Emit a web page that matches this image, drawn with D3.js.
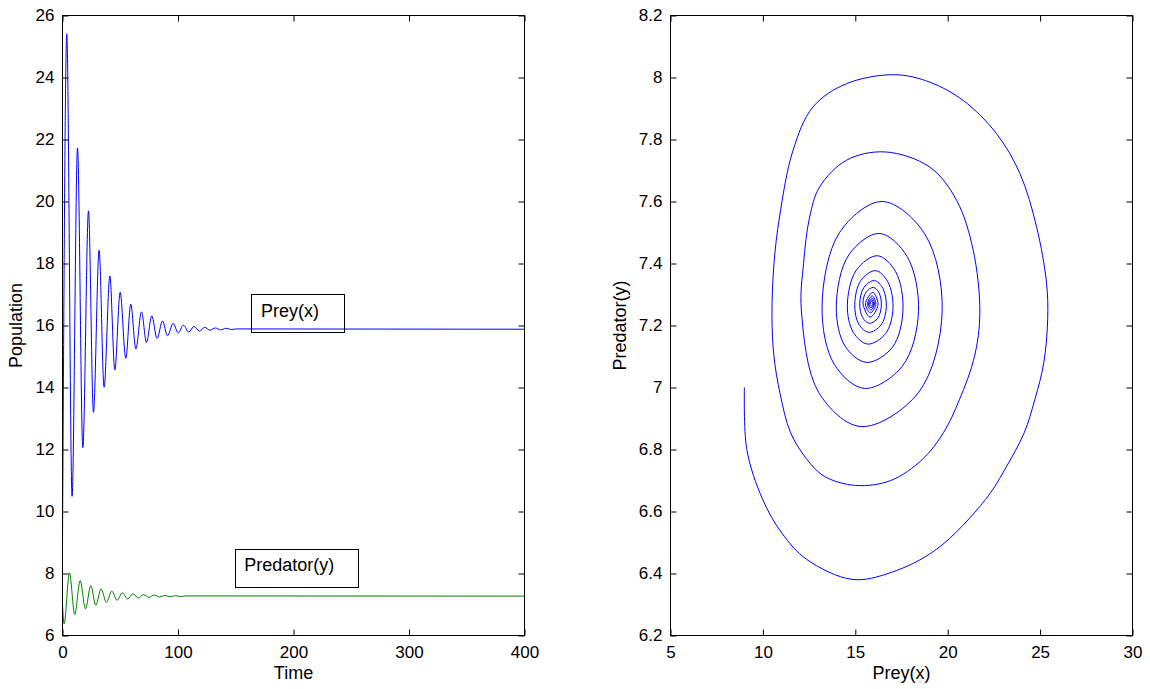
<!DOCTYPE html>
<html>
<head>
<meta charset="utf-8">
<script src="https://cdn.jsdelivr.net/npm/d3@7"></script>
<style>
  body { margin: 0; background: #fff; }
  svg { display: block; }
  text { font-family: "Liberation Sans", Arial, Helvetica, sans-serif; fill: #000; }
</style>
</head>
<body>
<svg id="chart" width="1150" height="689"></svg>
<script>
// time series at the turning points (time, value)
const preyTime = [0, 3.7, 8.3, 13, 17.6, 22.5, 26.8, 31.7, 36, 41, 45.3, 49.9, 54.8, 59.1, 63.5, 68.4, 72.7, 77.3, 81.9, 86.6, 90.9, 95.8, 100.2, 104.7, 109.3, 113.9, 118.5, 123.1, 127.7, 132.3, 136.9, 141.5, 146.1, 150.7, 400];
const preyValues = [9, 25.41, 10.49, 21.73, 12.06, 19.7, 13.2, 18.43, 14.01, 17.6, 14.57, 17.07, 14.94, 16.69, 15.24, 16.44, 15.45, 16.31, 15.58, 16.15, 15.67, 16.07, 15.76, 16.01, 15.79, 15.97, 15.82, 15.94, 15.85, 15.92, 15.86, 15.91, 15.87, 15.89, 15.88];

const predTime = [0, 1.4, 6, 10.6, 15.3, 19.9, 24.5, 28.8, 33.4, 38, 42.7, 47.2, 51.8, 56.4, 61, 65.6, 70.2, 74.8, 79.4, 84, 88.6, 93.2, 97.8, 102.4, 107, 400];
const predValues = [7.0, 6.38, 8.02, 6.68, 7.77, 6.86, 7.61, 6.98, 7.5, 7.07, 7.43, 7.135, 7.38, 7.18, 7.345, 7.21, 7.32, 7.23, 7.305, 7.243, 7.293, 7.25, 7.285, 7.258, 7.278, 7.27];

// phase portrait, points traced along the spiral (prey, predator)
const phasePrey = [9, 9.13, 9.98, 11.03, 12.36, 14.83, 16.92, 19.39, 22.05, 23.19, 24.14, 24.71, 25.2, 25.41, 25.35, 24.81, 23.91, 22.64, 20.84, 19.03, 17.13, 14.52, 12.71, 11.63, 10.9, 10.6, 10.49, 10.6, 10.93, 11.5, 12.36, 13.31, 15.02, 16.92, 18.63, 19.77, 20.63, 21.45, 21.74, 21.38, 20.48, 19.03, 16.6, 14.52, 13.07, 12.53, 12.2, 12.08,
  13.02, 15.3, 18.41, 19.7, 18.75, 16.45, 14.15, 13.2,
  13.87, 15.5, 17.56, 18.42, 17.8, 16.3, 14.65, 13.97,
  14.45, 15.62, 17.01, 17.58, 17.18, 16.2, 15.05, 14.57,
  14.9, 15.68, 16.64, 17.04, 16.76, 16.1, 15.3, 14.97,
  15.19, 15.73, 16.4, 16.68, 16.49, 16.03, 15.47, 15.24,
  15.4, 15.77, 16.22, 16.41, 16.28, 15.98, 15.58, 15.42,
  15.8, 16.23, 15.95, 15.55, 15.82, 16.11, 15.92, 15.65, 15.84, 16.04, 15.9, 15.71, 15.85, 15.99, 15.89, 15.76, 15.86, 15.95, 15.88, 15.8, 15.87];
const phasePred = [7.0, 6.8, 6.64, 6.53, 6.446, 6.381, 6.403, 6.478, 6.639, 6.746, 6.854, 6.96, 7.08, 7.22, 7.336, 7.518, 7.69, 7.819, 7.926, 7.985, 8.009, 7.98, 7.905, 7.765, 7.55, 7.4, 7.23, 7.1, 6.98, 6.854, 6.77, 6.714, 6.684, 6.7, 6.768, 6.854, 6.96, 7.1, 7.24, 7.443, 7.604, 7.711, 7.76, 7.733, 7.647, 7.55, 7.4, 7.25,
  6.984, 6.874, 6.983, 7.245, 7.496, 7.6, 7.5, 7.26,
  7.074, 6.997, 7.07, 7.245, 7.423, 7.497, 7.428, 7.26,
  7.133, 7.081, 7.13, 7.25, 7.374, 7.425, 7.378, 7.265,
  7.177, 7.14, 7.174, 7.255, 7.341, 7.377, 7.345, 7.268,
  7.204, 7.178, 7.202, 7.26, 7.32, 7.345, 7.323, 7.27,
  7.225, 7.207, 7.224, 7.265, 7.306, 7.323, 7.307, 7.27,
  7.227, 7.267, 7.307, 7.27, 7.241, 7.268, 7.296, 7.27, 7.25, 7.269, 7.289, 7.27, 7.257, 7.27, 7.283, 7.27, 7.262, 7.27, 7.278, 7.27, 7.27];

// ticks
const timeTicks = [0, 100, 200, 300, 400];
const popTicks = [6, 8, 10, 12, 14, 16, 18, 20, 22, 24, 26];
const preyTicks = [5, 10, 15, 20, 25, 30];
const predTicks = [6.2, 6.4, 6.6, 6.8, 7, 7.2, 7.4, 7.6, 7.8, 8, 8.2];

const svg = d3.select("#chart");
const tickFont = 17;
const labelFont = 18;

// left panel
const xTime = d3.scaleLinear().domain([0, 400]).range([62.5, 524.5]);
const yPop = d3.scaleLinear().domain([6, 26]).range([635.5, 15.5]);
// right panel
const xPrey = d3.scaleLinear().domain([5, 30]).range([670.5, 1132.5]);
const yPred = d3.scaleLinear().domain([6.2, 8.2]).range([635.5, 15.5]);

function drawFrame(x, y, xt, yt) {
  let g = svg.append("g");
  let [x0, x1] = x.range();
  let [y0, y1] = y.range();

  let styleAxis = sel => {
    sel.select(".domain").remove();
    sel.selectAll("line").attr("stroke", "#000");
    sel.selectAll("text").style("font-size", tickFont + "px")
      .style("font-family", "'Liberation Sans', Arial, sans-serif").attr("fill", "#000");
  };

  g.append("g").attr("transform", `translate(0,${y0})`)
    .call(d3.axisBottom(x).tickValues(xt).tickSizeInner(-6).tickSizeOuter(0).tickPadding(10).tickFormat(d => d))
    .call(styleAxis);
  g.append("g").attr("transform", `translate(0,${y1})`)
    .call(d3.axisTop(x).tickValues(xt).tickSizeInner(-6).tickSizeOuter(0).tickFormat(""))
    .call(styleAxis);
  g.append("g").attr("transform", `translate(${x0},0)`)
    .call(d3.axisLeft(y).tickValues(yt).tickSizeInner(-6).tickSizeOuter(0).tickPadding(8).tickFormat(d => d))
    .call(styleAxis);
  g.append("g").attr("transform", `translate(${x1},0)`)
    .call(d3.axisRight(y).tickValues(yt).tickSizeInner(-6).tickSizeOuter(0).tickFormat(""))
    .call(styleAxis);

  g.append("rect")
    .attr("x", x0).attr("y", y1)
    .attr("width", x1 - x0).attr("height", y0 - y1)
    .attr("fill", "none").attr("stroke", "#000").attr("stroke-width", 1);
}

// lines first, frame on top
const tsLine = d3.line().x(d => xTime(d[0])).y(d => yPop(d[1])).curve(d3.curveMonotoneX);
svg.append("path")
  .datum(d3.zip(preyTime, preyValues))
  .attr("d", tsLine)
  .attr("fill", "none").attr("stroke", "#0000ff").attr("stroke-width", 1);

svg.append("path")
  .datum(d3.zip(predTime, predValues))
  .attr("d", tsLine)
  .attr("fill", "none").attr("stroke", "#008000").attr("stroke-width", 1);

const phaseLine = d3.line().x(d => xPrey(d[0])).y(d => yPred(d[1])).curve(d3.curveCatmullRom.alpha(0.5));
svg.append("path")
  .datum(d3.zip(phasePrey, phasePred))
  .attr("d", phaseLine)
  .attr("fill", "none").attr("stroke", "#0000ff").attr("stroke-width", 1);

drawFrame(xTime, yPop, timeTicks, popTicks);
drawFrame(xPrey, yPred, preyTicks, predTicks);

// text boxes inside the time plot (data coordinates)
function textBox(label, t0, t1, vTop, vBot, tText, vText) {
  svg.append("rect")
    .attr("x", Math.round(xTime(t0)) + 0.5).attr("y", Math.round(yPop(vTop)) + 0.5)
    .attr("width", Math.round(xTime(t1) - xTime(t0))).attr("height", Math.round(yPop(vBot) - yPop(vTop)))
    .attr("fill", "none").attr("stroke", "#000").attr("stroke-width", 1);
  svg.append("text")
    .attr("x", xTime(tText)).attr("y", yPop(vText))
    .style("font-size", labelFont + "px")
    .text(label);
}
textBox("Prey(x)", 163.2, 244, 17.02, 15.79, 171.9, 16.28);
textBox("Predator(y)", 149.4, 256.1, 8.79, 7.57, 157.4, 8.09);

// axis titles
svg.append("text").attr("x", (xTime.range()[0] + xTime.range()[1]) / 2).attr("y", 679)
  .attr("text-anchor", "middle").style("font-size", labelFont + "px").text("Time");
svg.append("text").attr("transform", `translate(22,${(yPop.range()[0] + yPop.range()[1]) / 2}) rotate(-90)`)
  .attr("text-anchor", "middle").style("font-size", labelFont + "px").text("Population");
svg.append("text").attr("x", (xPrey.range()[0] + xPrey.range()[1]) / 2).attr("y", 679)
  .attr("text-anchor", "middle").style("font-size", labelFont + "px").text("Prey(x)");
svg.append("text").attr("transform", `translate(626,${(yPred.range()[0] + yPred.range()[1]) / 2}) rotate(-90)`)
  .attr("text-anchor", "middle").style("font-size", labelFont + "px").text("Predator(y)");
</script>
</body>
</html>
